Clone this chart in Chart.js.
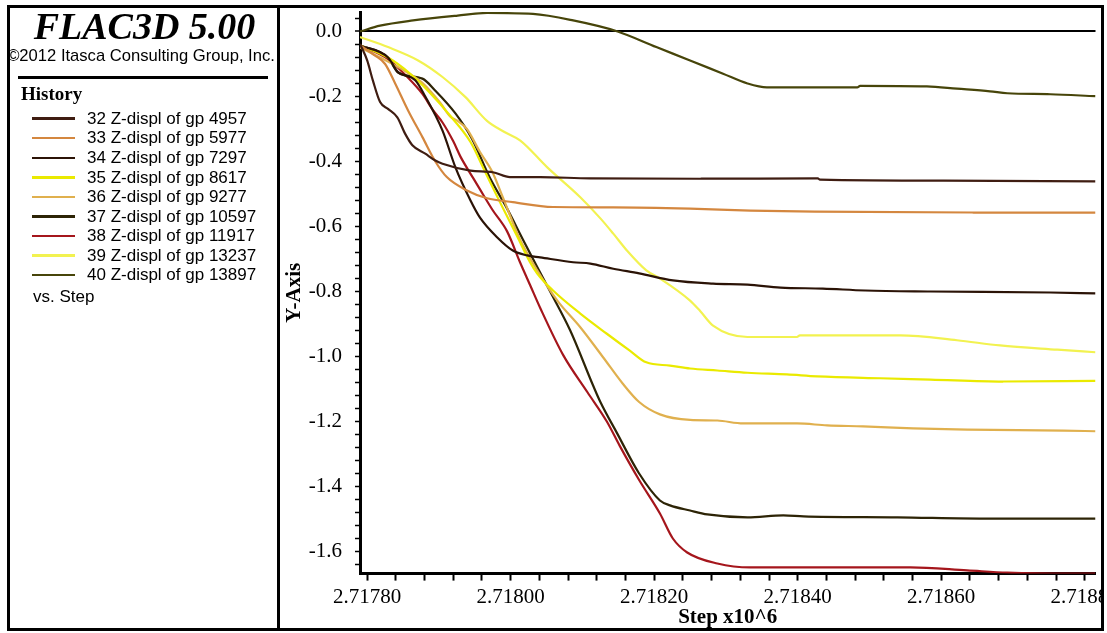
<!DOCTYPE html>
<html>
<head>
<meta charset="utf-8">
<script src="https://cdn.jsdelivr.net/npm/chart.js@4.4.1/dist/chart.umd.min.js"></script>
<style>
  html, body { margin: 0; padding: 0; background: #fff; }
  #wrap { position: relative; width: 1107px; height: 633px; overflow: hidden; background: #fff; }
  #c { position: absolute; left: 0; top: 0; }
  .abs { position: absolute; white-space: nowrap; }
  #frame { left: 7px; top: 5px; width: 1097px; height: 626px; border: 3px solid #000; box-sizing: border-box; }
  #divider { left: 277px; top: 5px; width: 3px; height: 626px; background: #000; }
  #rstrip { left: 1104px; top: 0; width: 3px; height: 633px; background: #fff; }
  #title { left: 0; width: 289px; top: 6.5px; text-align: center; font: italic bold 38px/38px "Liberation Serif", "Times New Roman", serif; color: #000; }
  #copy { left: 0; width: 282px; top: 47.7px; text-align: center; font: 16.6px/16.6px "Liberation Sans", Arial, sans-serif; color: #000; }
  #rule { left: 18px; top: 76px; width: 250px; height: 3px; background: #000; }
  #hist { left: 21px; top: 84px; font: bold 19px/19px "Liberation Serif", "Times New Roman", serif; color: #000; }
  .row { position: absolute; left: 0; width: 270px; height: 19.5px; font: 17px/19.5px "Liberation Sans", Arial, sans-serif; color: #000; white-space: nowrap; }
  .row .sw { position: absolute; left: 32px; width: 43px; top: 8.5px; height: 2.5px; }
  .row .tx { position: absolute; left: 87px; top: 0; }
</style>
</head>
<body>
<div id="wrap">
  <canvas id="c" width="1107" height="633"></canvas>
  <div class="abs" id="title">FLAC3D 5.00</div>
  <div class="abs" id="copy">©2012 Itasca Consulting Group, Inc.</div>
  <div class="abs" id="rule"></div>
  <div class="abs" id="hist">History</div>
  <div class="abs" id="legend" style="left:0;top:0;"></div>
  <div class="abs" id="rstrip"></div>
  <div class="abs" id="frame"></div>
  <div class="abs" id="divider"></div>
</div>
<script>
// ---------- DATA (step, Z-displacement) ----------
const gp4957 = [ // 32
  [2717790,-0.038],[2717800,-0.089],[2717808,-0.151],[2717818,-0.217],[2717829,-0.238],[2717842,-0.264],
  [2717853,-0.315],[2717863,-0.350],[2717881,-0.376],[2717895,-0.397],[2717905,-0.407],[2717944,-0.428],
  [2717975,-0.433],[2717999,-0.448],[2718041,-0.448],[2718111,-0.452],[2718264,-0.453],[2718428,-0.452],
  [2718431,-0.456],[2718603,-0.459],[2718815,-0.461]];
const gp5977 = [ // 33
  [2717790,-0.043],[2717811,-0.074],[2717825,-0.100],[2717839,-0.160],[2717857,-0.243],[2717877,-0.325],
  [2717895,-0.400],[2717911,-0.448],[2717939,-0.489],[2717967,-0.513],[2718003,-0.525],[2718059,-0.540],
  [2718143,-0.541],[2718250,-0.545],[2718334,-0.551],[2718424,-0.554],[2718645,-0.557],[2718815,-0.557]];
const gp7297 = [ // 34
  [2717790,-0.043],[2717829,-0.080],[2717843,-0.125],[2717867,-0.150],[2717881,-0.200],[2717905,-0.305],
  [2717923,-0.418],[2717944,-0.520],[2717957,-0.572],[2717981,-0.633],[2718003,-0.674],[2718023,-0.689],
  [2718041,-0.695],[2718087,-0.710],[2718111,-0.714],[2718143,-0.730],[2718179,-0.744],[2718226,-0.766],
  [2718282,-0.776],[2718330,-0.779],[2718376,-0.788],[2718435,-0.791],[2718494,-0.797],[2718585,-0.800],
  [2718752,-0.803],[2718815,-0.806]];
const gp8617 = [ // 35
  [2717790,-0.043],[2717829,-0.080],[2717860,-0.130],[2717888,-0.190],[2717916,-0.260],[2717944,-0.340],
  [2717964,-0.430],[2717985,-0.525],[2718009,-0.630],[2718027,-0.710],[2718037,-0.745],[2718059,-0.797],
  [2718097,-0.868],[2718134,-0.930],[2718166,-0.982],[2718189,-1.018],[2718222,-1.028],[2718250,-1.037],
  [2718288,-1.043],[2718330,-1.050],[2718385,-1.055],[2718427,-1.061],[2718515,-1.067],[2718585,-1.071],
  [2718686,-1.077],[2718815,-1.075]];
const gp9277 = [ // 36
  [2717790,-0.049],[2717818,-0.080],[2717856,-0.126],[2717878,-0.160],[2717902,-0.220],[2717916,-0.262],
  [2717926,-0.275],[2717939,-0.300],[2717957,-0.370],[2717974,-0.430],[2717989,-0.510],[2718013,-0.640],
  [2718037,-0.735],[2718065,-0.828],[2718097,-0.910],[2718129,-1.003],[2718156,-1.083],[2718179,-1.140],
  [2718208,-1.178],[2718250,-1.195],[2718288,-1.197],[2718324,-1.206],[2718399,-1.206],[2718441,-1.212],
  [2718491,-1.215],[2718561,-1.221],[2718636,-1.225],[2718770,-1.228],[2718815,-1.230]];
const gp10597 = [ // 37
  [2717790,-0.043],[2717829,-0.080],[2717843,-0.126],[2717877,-0.145],[2717895,-0.182],[2717923,-0.252],
  [2717946,-0.330],[2717971,-0.450],[2717995,-0.545],[2718017,-0.640],[2718037,-0.725],
  [2718055,-0.800],[2718083,-0.920],[2718115,-1.090],[2718125,-1.140],[2718148,-1.235],[2718179,-1.360],
  [2718208,-1.443],[2718222,-1.458],[2718250,-1.474],[2718274,-1.486],[2718330,-1.495],[2718380,-1.489],
  [2718408,-1.492],[2718539,-1.495],[2718668,-1.499],[2718815,-1.499]];
const gp11917 = [ // 38
  [2717790,-0.043],[2717829,-0.085],[2717856,-0.140],[2717877,-0.192],[2717892,-0.243],[2717905,-0.280],
  [2717920,-0.338],[2717930,-0.385],[2717948,-0.452],[2717957,-0.485],[2717975,-0.550],[2717995,-0.615],
  [2718013,-0.710],[2718027,-0.780],[2718041,-0.850],[2718073,-0.995],[2718107,-1.110],[2718134,-1.200],
  [2718152,-1.275],[2718179,-1.380],[2718208,-1.483],[2718226,-1.560],[2718246,-1.603],[2718288,-1.637],
  [2718334,-1.649],[2718557,-1.649],[2718636,-1.658],[2718692,-1.665],[2718784,-1.668],[2718815,-1.668]];
const gp13237 = [ // 39
  [2717790,-0.017],[2717829,-0.048],[2717871,-0.089],[2717905,-0.140],[2717937,-0.202],[2717967,-0.275],
  [2717992,-0.310],[2718013,-0.335],[2718051,-0.418],[2718097,-0.510],[2718125,-0.575],[2718143,-0.622],
  [2718162,-0.674],[2718189,-0.735],[2718208,-0.760],[2718250,-0.828],[2718264,-0.860],[2718282,-0.905],
  [2718330,-0.940],[2718399,-0.940],[2718403,-0.935],[2718543,-0.935],[2718622,-0.950],[2718682,-0.966],
  [2718762,-0.979],[2718815,-0.987]];
const gp13897 = [ // 40
  [2717790,0.000],[2717818,0.018],[2717864,0.034],[2717926,0.049],[2717967,0.057],[2718031,0.054],
  [2718087,0.034],[2718149,0.000],[2718203,-0.048],[2718250,-0.089],[2718296,-0.130],[2718330,-0.160],
  [2718357,-0.172],[2718483,-0.172],[2718487,-0.167],[2718580,-0.169],[2718622,-0.176],[2718668,-0.184],
  [2718692,-0.190],[2718752,-0.193],[2718815,-0.199]];

const seriesLabels = [
  '32 Z-displ of gp 4957', '33 Z-displ of gp 5977', '34 Z-displ of gp 7297',
  '35 Z-displ of gp 8617', '36 Z-displ of gp 9277', '37 Z-displ of gp 10597',
  '38 Z-displ of gp 11917', '39 Z-displ of gp 13237', '40 Z-displ of gp 13897'];
const seriesData = [gp4957, gp5977, gp7297, gp8617, gp9277, gp10597, gp11917, gp13237, gp13897];
const seriesColors = ['#3f1d12', '#d4873f', '#2b1306', '#eaea00', '#e0b04e', '#2d2406', '#a5161c', '#f2f250', '#47450a'];

// axis range (steps) and tick values
const xMin = 2717790, xMax = 2718815;
const yMin = -1.668, yMax = 0.06;
const xTickValues = [];
for (let s = 2717800; s <= 2718800; s += 40) xTickValues.push(s);
const yTickValues = [];
for (let k = -41; k <= 1; k++) yTickValues.push(Math.round(k * 4) / 100);

// ---------- legend panel ----------
const legendEl = document.getElementById('legend');
const rowTop0 = 108.9, rowStep = 19.55;
seriesLabels.forEach((lab, i) => {
  const r = document.createElement('div');
  r.className = 'row';
  r.style.top = (rowTop0 + i * rowStep) + 'px';
  r.innerHTML = '<div class="sw" style="background:' + seriesColors[i] + '"></div><div class="tx"></div>';
  r.querySelector('.tx').textContent = lab;
  legendEl.appendChild(r);
});
const vs = document.createElement('div');
vs.className = 'row';
vs.style.top = (rowTop0 + 9 * rowStep + 2.5) + 'px';
vs.innerHTML = '<div class="tx" style="left:33px">vs. Step</div>';
legendEl.appendChild(vs);

// ---------- chart ----------
const SERIF = '"Liberation Serif", "Times New Roman", serif';
new Chart(document.getElementById('c').getContext('2d'), {
  type: 'line',
  data: {
    datasets: seriesData.map((d, i) => ({
      label: seriesLabels[i],
      data: d,
      borderColor: seriesColors[i],
      backgroundColor: seriesColors[i],
      borderWidth: 2.2,
      pointRadius: 0,
      fill: false,
      cubicInterpolationMode: 'monotone'
    }))
  },
  options: {
    responsive: false,
    animation: false,
    devicePixelRatio: 1,
    layout: { padding: { left: 282, top: 12, right: 11.5, bottom: 0 } },
    plugins: { legend: { display: false }, tooltip: { enabled: false } },
    scales: {
      x: {
        type: 'linear', min: xMin, max: xMax,
        afterBuildTicks: s => { s.ticks = xTickValues.map(v => ({ value: v })); },
        afterFit: s => { s.height = 59.4; s.paddingLeft = 0; s.paddingRight = 0; },
        ticks: {
          autoSkip: false, maxRotation: 0, minRotation: 0, padding: 4,
          color: '#000', font: { family: SERIF, size: 21 },
          callback: v => (v % 200 === 0 ? (v / 1e6).toFixed(5) : '')
        },
        grid: { drawOnChartArea: false, drawTicks: true, tickLength: 7, tickColor: '#000', tickWidth: 2 },
        border: { display: true, color: '#000', width: 3 },
        title: { display: true, text: 'Step x10^6', color: '#000', font: { family: SERIF, size: 21, weight: 'bold' }, padding: { top: 0, bottom: 3 } }
      },
      y: {
        type: 'linear', min: yMin, max: yMax,
        afterBuildTicks: s => { s.ticks = yTickValues.map(v => ({ value: v })); },
        afterFit: s => { s.width = 78; s.paddingTop = 0; s.paddingBottom = 0; },
        ticks: {
          autoSkip: false, padding: 13, color: '#000', font: { family: SERIF, size: 21 },
          callback: v => (Math.round(v * 100) % 20 === 0 ? (Math.round(v * 10) / 10).toFixed(1).replace('-0.0', '0.0') : '')
        },
        grid: {
          drawOnChartArea: true, drawTicks: true, tickLength: 5, tickColor: '#000', tickWidth: 1.5,
          color: c => (c.tick && Math.abs(c.tick.value) < 1e-9 ? '#000' : 'rgba(0,0,0,0)'),
          lineWidth: c => (c.tick && Math.abs(c.tick.value) < 1e-9 ? 2 : 1)
        },
        border: { display: true, color: '#000', width: 3 },
        title: { display: true, text: 'Y-Axis', color: '#000', font: { family: SERIF, size: 21, weight: 'bold' }, padding: { top: 0, bottom: 0 } }
      }
    }
  }
});
</script>
</body>
</html>
